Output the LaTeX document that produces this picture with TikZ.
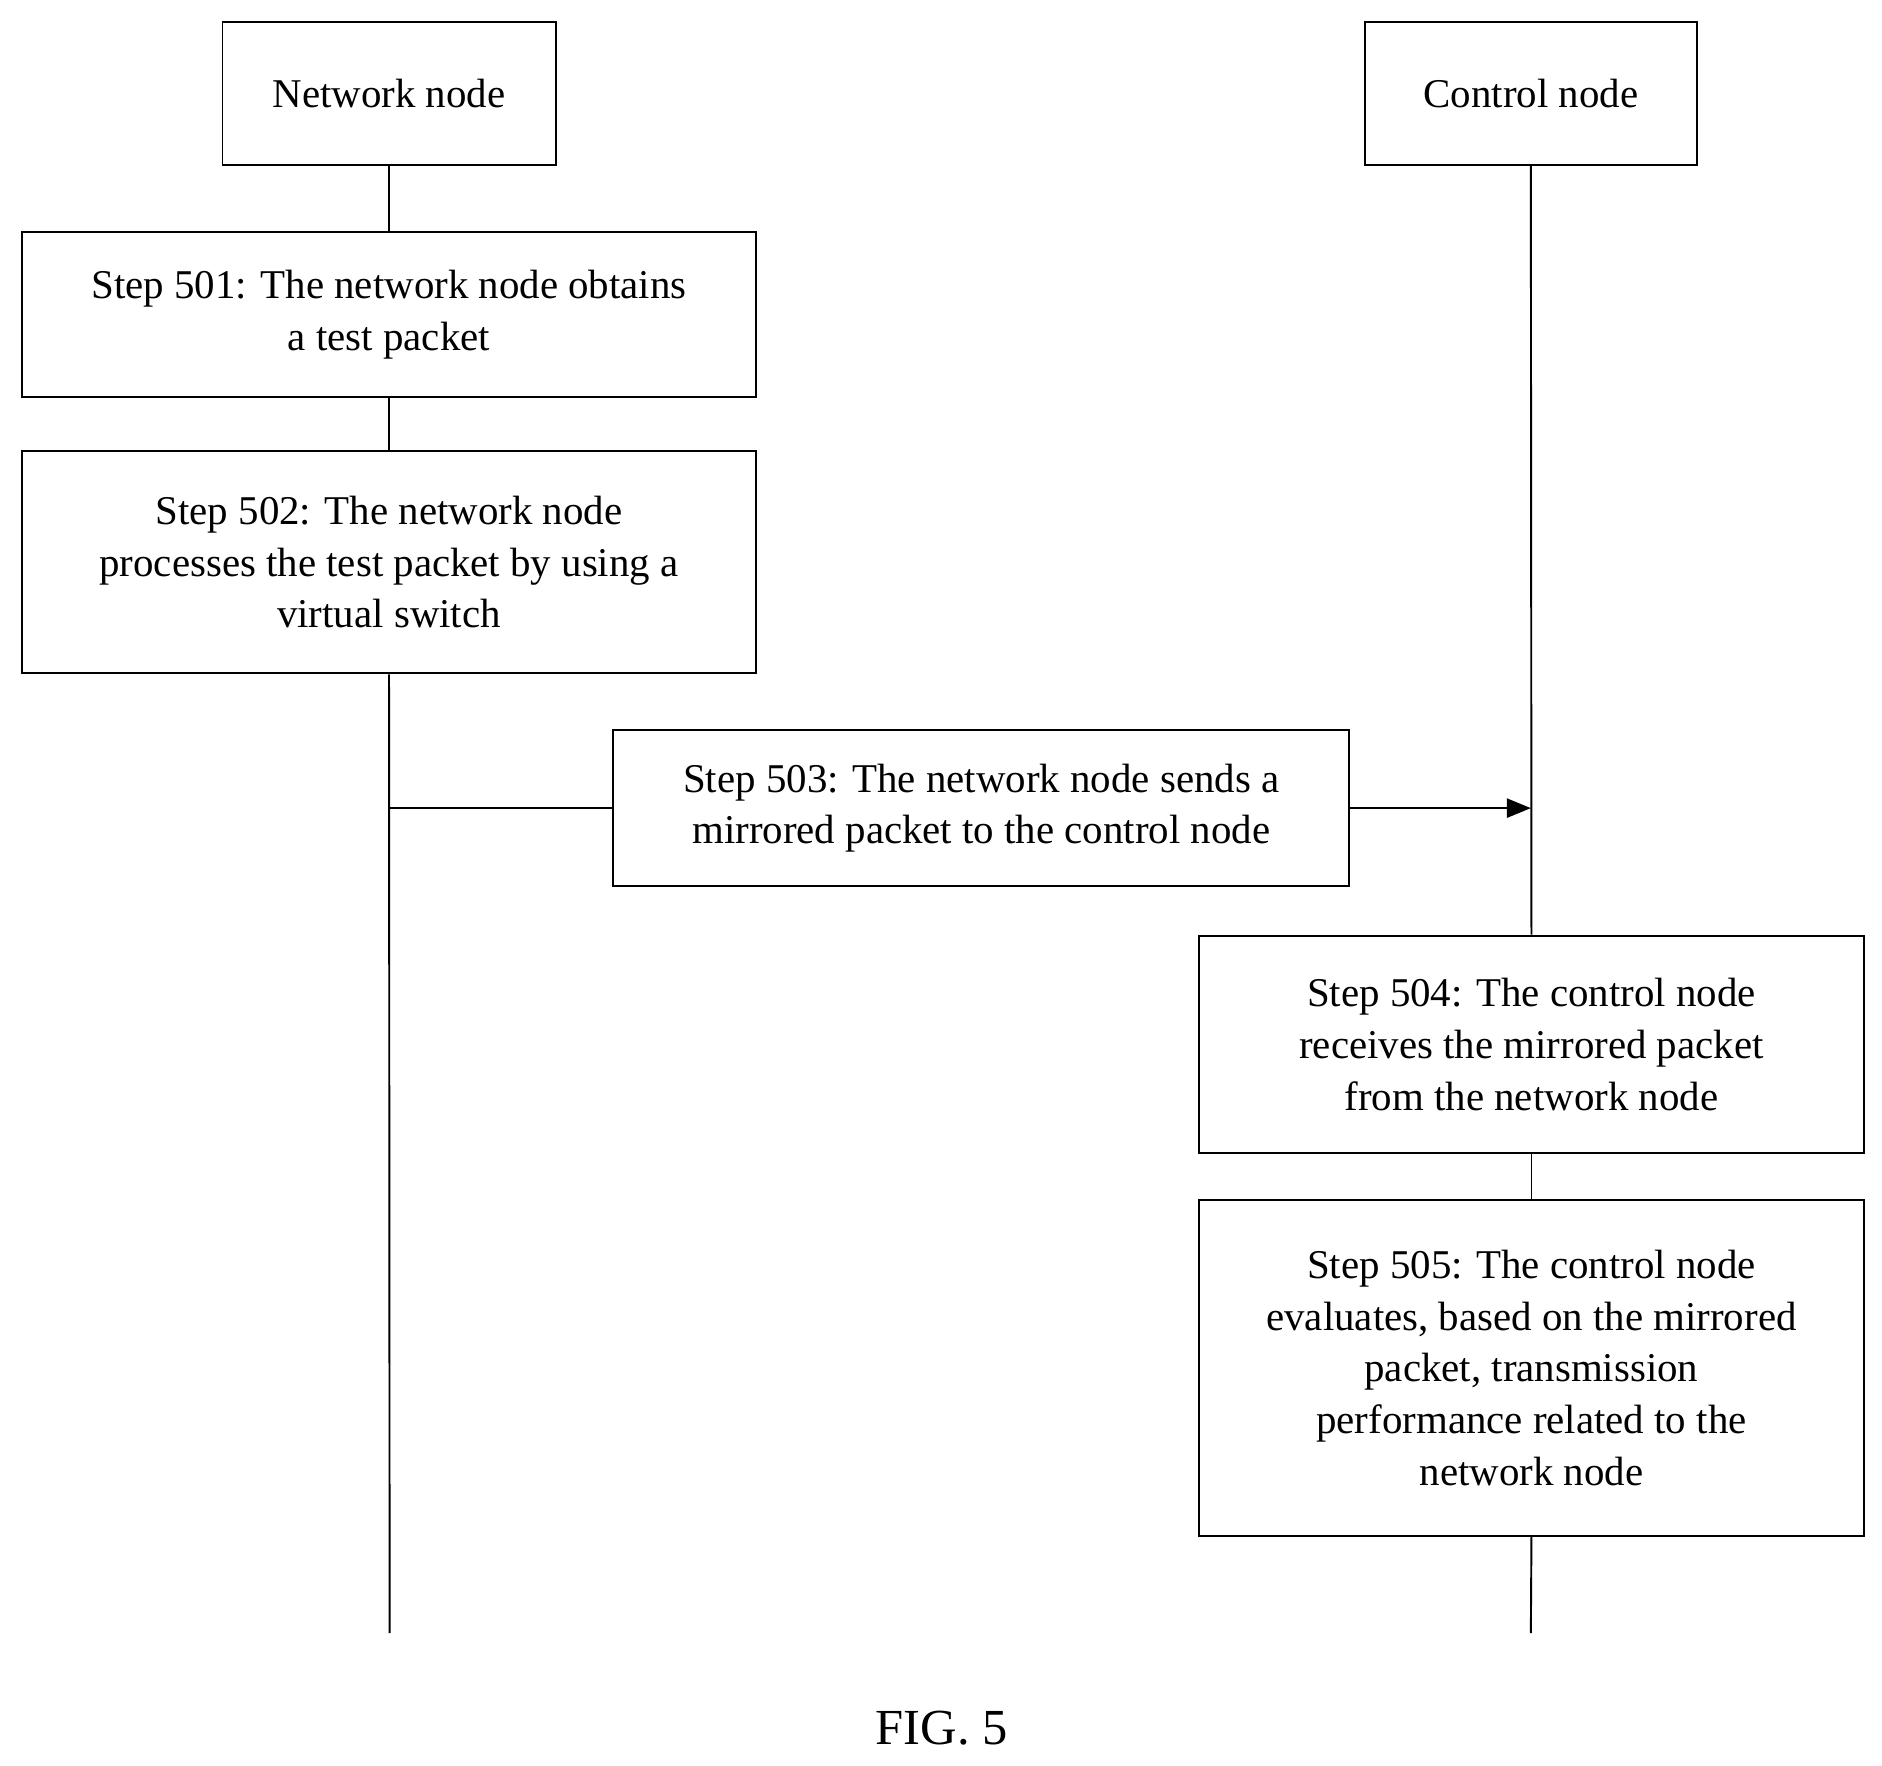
\documentclass[tikz,border=0pt]{standalone}
\usepackage{fontspec}
\setmainfont{Liberation Serif}
\usetikzlibrary{arrows.meta}
\begin{document}
\begin{tikzpicture}[x=0.5pt,y=-0.5pt,
  box/.style={draw,line width=0.8pt,align=center,inner sep=0pt,font=\fontsize{17}{21.5}\selectfont},
  line/.style={line width=0.8pt}]
\useasboundingbox (0,0) rectangle (1565,1468);
\newcommand\bx[6]{\node[box,minimum width=#4*0.5pt-#2*0.5pt,minimum height=#5*0.5pt-#3*0.5pt] (#1) at ({(#2+#4)/2},{(#3+#5)/2}) {#6};}
\bx{nn}{185}{18}{462}{137}{Network node}
\bx{cn}{1135}{18}{1411}{137}{Control node}
\bx{s1}{18}{193}{629}{330}{Step 501: The network node obtains\\a test packet}
\bx{s2}{18}{375}{629}{560}{Step 502: The network node\\processes the test packet by using a\\virtual switch}
\bx{s3}{510}{607}{1122}{737}{Step 503: The network node sends a\\mirrored packet to the control node}
\bx{s4}{997}{778}{1550}{959}{Step 504: The control node\\receives the mirrored packet\\from the network node}
\bx{s5}{997}{998}{1550}{1277}{Step 505: The control node\\evaluates, based on the mirrored\\packet, transmission\\performance related to the\\network node}
\coordinate (nend) at (324,1358);
\coordinate (cend) at (1273,1358);
\coordinate (na) at (324,672);
\coordinate (ca) at (1273,672);
\draw[line] (nn.south) -- (s1.north);
\draw[line] (s1.south) -- (s2.north);
\draw[line] (s2.south) -- (nend);
\draw[line] (cn.south) -- (s4.north);
\draw[line] (s4.south) -- (s5.north);
\draw[line] (s5.south) -- (cend);
\draw[line] (na) -- (s3.west);
\draw[line,-{Triangle[length=10pt,width=8pt]}] (s3.east) -- (ca);
\node[font=\fontsize{21}{25}\selectfont] (fig) at (783,1437) {FIG. 5};
\end{tikzpicture}
\end{document}
